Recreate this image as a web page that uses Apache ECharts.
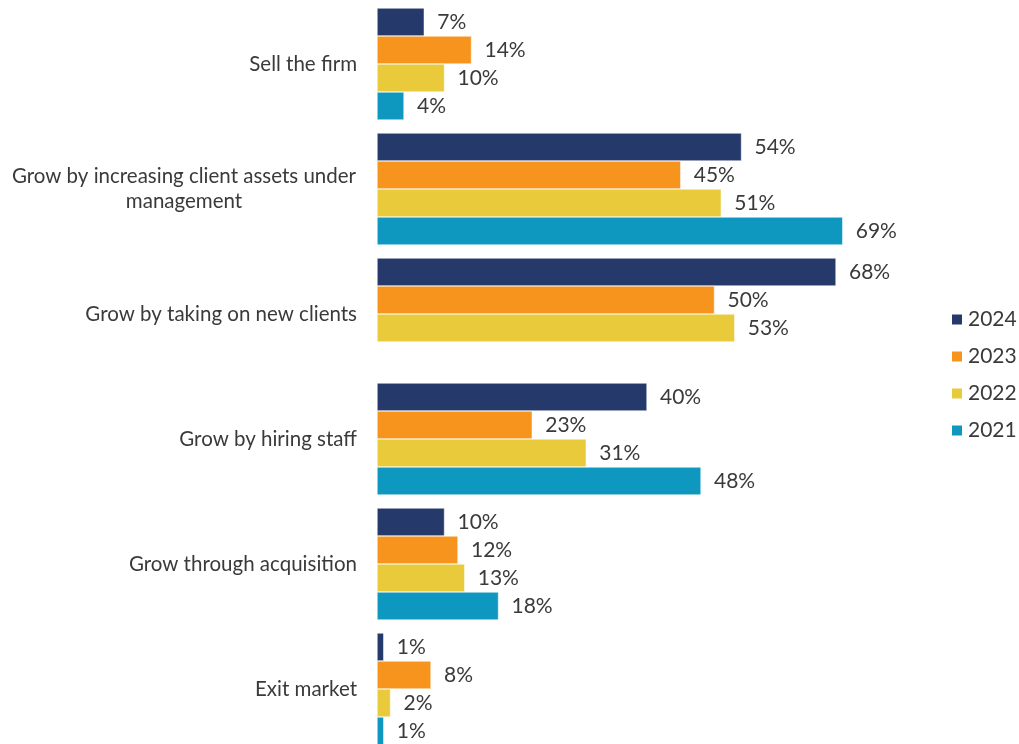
<!DOCTYPE html>
<html>
<head>
<meta charset="utf-8">
<script src="https://cdn.jsdelivr.net/npm/echarts@6/dist/echarts.min.js"></script>
<style>
  html, body { margin: 0; padding: 0; background: #ffffff; overflow: hidden; }
  #chart { width: 1019px; height: 752px; }
</style>
</head>
<body>
<div id="chart"></div>
<script>
// Categories (top to bottom)
const categories = [
  'Sell the firm',
  'Grow by increasing client assets under management',
  'Grow by taking on new clients',
  'Grow by hiring staff',
  'Grow through acquisition',
  'Exit market'
];

// Share of respondents (%) per year
const years = ['2024', '2023', '2022', '2021'];
const values2024 = [7, 54, 68, 40, 10, 1];
const values2023 = [14, 45, 50, 23, 12, 8];
const values2022 = [10, 51, 53, 31, 13, 2];
const values2021 = [4, 69, null, 48, 18, 1];

const colors = ['#253a6b', '#f7941e', '#e8ca3a', '#0e97bf'];
const seriesValues = [values2024, values2023, values2022, values2021];

const FONT = 'Lato, "Open Sans", sans-serif';
const WEIGHT = 400;
const TEXT_COLOR = '#3a3a3a';
const CAT_SIZE = 20.5;

// Width of the longest wrapped line, so both lines can be centred in one block
const longLine1 = 'Grow by increasing client assets under';
const longLine2 = 'management';
const ctx = document.createElement('canvas').getContext('2d');
ctx.font = WEIGHT + ' ' + CAT_SIZE + 'px ' + FONT;
const longWidth = Math.ceil(ctx.measureText(longLine1).width) + 1;

const chart = echarts.init(document.getElementById('chart'), null, { renderer: 'canvas' });

chart.setOption({
  animation: false,
  backgroundColor: '#ffffff',
  grid: { left: 377, top: 1.5, bottom: 0.5, width: 540 },
  legend: {
    orient: 'vertical',
    left: 950,
    top: 309,
    padding: 0,
    itemWidth: 12,
    itemHeight: 12,
    itemGap: 16,
    icon: 'rect',
    textStyle: { fontFamily: FONT, fontWeight: WEIGHT, fontSize: 21, color: TEXT_COLOR },
    data: years
  },
  xAxis: {
    type: 'value',
    min: 0,
    max: 80,
    show: false
  },
  yAxis: {
    type: 'category',
    inverse: true,
    data: categories,
    axisLine: { show: false },
    axisTick: { show: false },
    splitLine: { show: false },
    axisLabel: {
      margin: 20,
      fontFamily: FONT,
      fontWeight: WEIGHT,
      fontSize: CAT_SIZE,
      color: TEXT_COLOR,
      formatter: function (v) {
        if (v === categories[1]) {
          return '{c|' + longLine1 + '}\n{c|' + longLine2 + '}';
        }
        return v;
      },
      rich: {
        c: {
          align: 'center', width: longWidth,
          fontFamily: FONT, fontWeight: WEIGHT, fontSize: CAT_SIZE, color: TEXT_COLOR, lineHeight: 25
        }
      }
    }
  },
  series: years.map(function (y, i) {
    return {
      name: y,
      type: 'bar',
      data: seriesValues[i],
      barWidth: 28,
      barGap: '0%',
      itemStyle: { color: colors[i], borderColor: '#ffffff', borderWidth: 0.5 },
      label: {
        show: true,
        position: 'right',
        distance: 13,
        fontFamily: FONT,
        fontWeight: WEIGHT,
        fontSize: 21,
        color: TEXT_COLOR,
        formatter: function (p) { return p.value == null ? '' : p.value + '%'; }
      }
    };
  })
});
</script>
</body>
</html>
